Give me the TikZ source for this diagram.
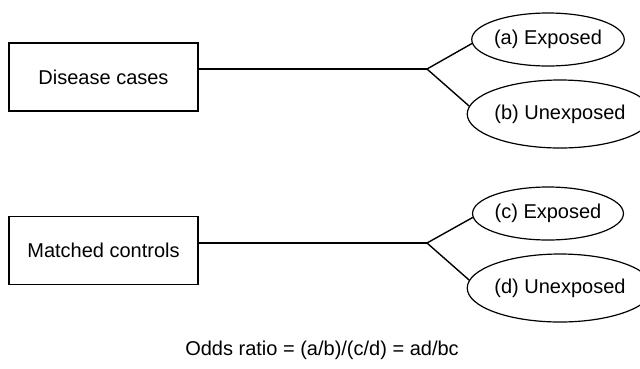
\documentclass[tikz,border=0pt]{standalone}
\usepackage{fontspec}
\setmainfont{Liberation Sans}
\usetikzlibrary{shapes.geometric}
\begin{document}
\begin{tikzpicture}[x=1pt,y=-1pt,
  every node/.style={font=\fontsize{20}{24}\selectfont, text=black},
  groupbox/.style={draw, line width=1.4pt, minimum width=189pt, minimum height=68pt, inner sep=0pt},
  outcome/.style={draw, ellipse, line width=1.2pt, inner sep=0pt},
  link/.style={line width=1.4pt}]
\useasboundingbox (0,0) rectangle (640,368);
% Disease cases group
\node[groupbox] (cases) at (103.5,77) {Disease cases};
\coordinate (j1) at (427,69);
\node[outcome, minimum width=135pt, minimum height=53pt] (ea) at (548,39.5) {(a) Exposed};
\node[outcome, minimum width=158pt, minimum height=68pt] (eb) at (560,114) {(b) Unexposed};
\draw[link] (j1 -| cases.east) -- (j1);
\draw[link] (j1) -- (ea.183);
\draw[link] (j1) -- (eb.175);
% Matched controls group
\node[groupbox] (controls) at (103.5,250.5) {Matched controls};
\coordinate (j2) at (427,243);
\node[outcome, minimum width=135pt, minimum height=53pt] (ec) at (548,213.5) {(c) Exposed};
\node[outcome, minimum width=158pt, minimum height=68pt] (ed) at (560,288) {(d) Unexposed};
\draw[link] (j2 -| controls.east) -- (j2);
\draw[link] (j2) -- (ec.183);
\draw[link] (j2) -- (ed.175);
% formula
\node (odds) at (322,350) {Odds ratio = (a/b)/(c/d) = ad/bc};
\end{tikzpicture}
\end{document}
